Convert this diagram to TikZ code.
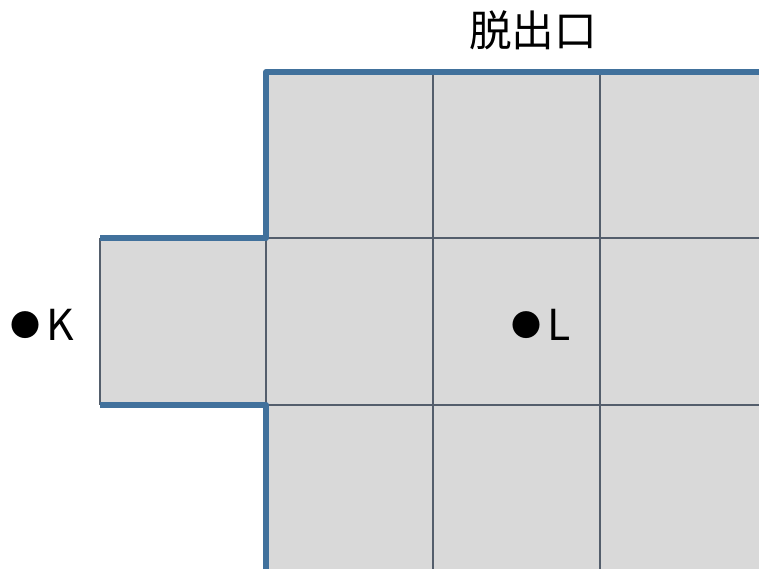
\documentclass[tikz,border=0pt]{standalone}
\usepackage{fontspec}
\newfontfamily\jpfont{Noto Sans CJK JP}
\definecolor{roomfill}{RGB}{217,217,217}
\definecolor{wallblue}{RGB}{65,113,156}
\definecolor{gridline}{RGB}{84,94,108}
\tikzset{every picture/.style={line width=0.75pt}}
\tikzset{
  wall/.style={color=wallblue, line width=4.5, line join=round},
  cellline/.style={color=gridline, line width=1.4},
  label/.style={font=\jpfont\fontsize{32}{38}\selectfont, inner sep=0pt}
}
\newcommand{\pointmark}{{\fontsize{22.5}{26}\selectfont\raisebox{2.5pt}{●}}\hspace{4.5pt}}
\begin{document}
\begin{tikzpicture}[x=0.75pt,y=0.75pt,yscale=-1,xscale=1]
%set diagram area
\useasboundingbox (0,0) rectangle (759,569);

%Shape: Rectangle [id:room]
\fill [roomfill] (266,72) rectangle (759,569);
%Shape: Rectangle [id:side]
\fill [roomfill] (100,238) rectangle (266,405);

%Straight Lines [id:v1]
\draw [cellline] (433,72) -- (433,569);
%Straight Lines [id:v2]
\draw [cellline] (600,72) -- (600,569);
%Straight Lines [id:h1]
\draw [cellline] (266,238) -- (759,238);
%Straight Lines [id:h2]
\draw [cellline] (266,405) -- (759,405);
%Straight Lines [id:v0]
\draw [cellline] (266,238) -- (266,405);
%Straight Lines [id:vside]
\draw [cellline] (100,238) -- (100,405);

%Straight Lines [id:wall top]
\draw [wall] (759,72) -- (266,72) -- (266,238) -- (100,238);
%Straight Lines [id:wall bottom]
\draw [wall] (100,405) -- (266,405) -- (266,569);

% Text Nodes
\node [label] (exit) at (533,30) {脱出口};
\node [label, anchor=base west] (K) at (9.5,340) {\pointmark K};
\node [label, anchor=base west] (L) at (510.5,340) {\pointmark L};

\end{tikzpicture}
\end{document}
